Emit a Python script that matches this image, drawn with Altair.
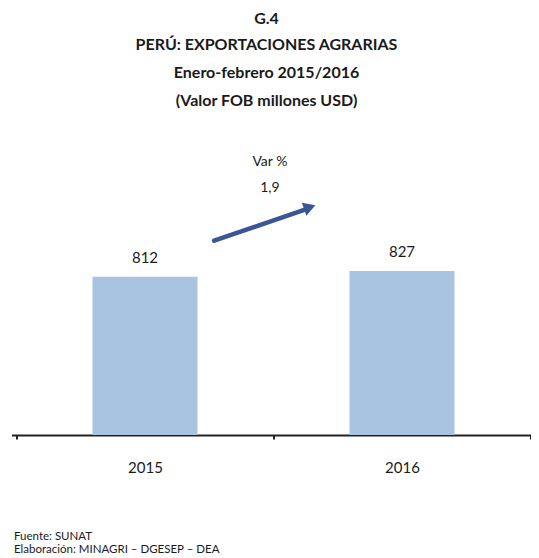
import altair as alt
import pandas as pd

# ---- data ----
years = ["2015", "2016"]
values = [812, 827]
var_caption = "Var %"
var_value = "1,9"
title_lines = [
    "G.4",
    "PERÚ: EXPORTACIONES AGRARIAS",
    "Enero-febrero 2015/2016",
    "(Valor FOB millones USD)",
]
footer_lines = ["Fuente: SUNAT", "Elaboración: MINAGRI – DGESEP – DEA"]

# arrow annotation in (category-position, value) units
arrow_x = [0.769, 1.128]
arrow_y = [906, 988]
head_x = [1.141]
head_y = [993]
var_x = [0.986, 0.986]
var_y = [1112, 1044]

FONT = "Lato"
BAR = "#A9C4E0"
ARROW = "#3A5795"
TXT = "#1a1a1a"

positions = [i + 0.5 for i in range(len(years))]
bars_df = pd.DataFrame({"year": years, "value": values, "pos": positions})

yscale = alt.Scale(domain=[400, 1150], nice=False, zero=False)
xscale = alt.Scale(domain=[0, len(years)], range=[0, 524], nice=False, zero=False)

label_expr = " : ".join(
    [f"datum.value == {p} ? '{y}'" for p, y in zip(positions, years)] + ["''"]
)
tick_vals = sorted(set(list(range(len(years) + 1)) + positions))

xaxis = alt.Axis(
    title=None, values=tick_vals, labelExpr=label_expr, labelAngle=0,
    labelFontSize=15, labelFont=FONT, labelColor=TXT, labelPadding=21,
    tickSize=4, tickColor="#222", tickWidth=2,
    tickOpacity=alt.condition("datum.value % 1 != 0", alt.value(0), alt.value(1)),
    domainColor="#222", domainWidth=2, grid=False, labelBound=False, labelOverlap=False,
    labelFlush=False,
)

X = lambda f: alt.X(f, scale=xscale, axis=xaxis)
Y = lambda f: alt.Y(f, scale=yscale, axis=None)

bars = alt.Chart(bars_df).mark_bar(width=105, color=BAR).encode(
    x=X("pos:Q"),
    y=Y("value:Q"),
    y2=alt.datum(400),
)
labels = alt.Chart(bars_df).mark_text(
    dy=-19, fontSize=15, font=FONT, color=TXT, baseline="middle"
).encode(x=X("pos:Q"), y=Y("value:Q"), text="value:Q")

arrow = alt.Chart(pd.DataFrame({"pos": arrow_x, "value": arrow_y})).mark_line(
    color=ARROW, strokeWidth=4.5, strokeCap="round"
).encode(x=X("pos:Q"), y=Y("value:Q"))
head = alt.Chart(pd.DataFrame({"pos": head_x, "value": head_y})).mark_point(
    shape="triangle-right", filled=True, size=190, angle=340.6, color=ARROW, opacity=1
).encode(x=X("pos:Q"), y=Y("value:Q"))
vtext = alt.Chart(pd.DataFrame({"pos": var_x, "value": var_y, "t": [var_caption, var_value]})).mark_text(
    fontSize=14, font=FONT, color=TXT, baseline="middle"
).encode(x=X("pos:Q"), y=Y("value:Q"), text="t:N")

title_y = [-128.5, -102, -74, -46]
titles = [
    alt.Chart(pd.DataFrame({"t": [line]})).mark_text(
        fontSize=16, font=FONT, fontWeight="bold", color=TXT, baseline="middle", align="center"
    ).encode(text="t:N", x=alt.value(255), y=alt.value(yy))
    for line, yy in zip(title_lines, title_y)
]
footer_y = [390, 402.5]
footers = [
    alt.Chart(pd.DataFrame({"t": [line]})).mark_text(
        fontSize=11.5, font=FONT, color=TXT, baseline="middle", align="left"
    ).encode(text="t:N", x=alt.value(2.5), y=alt.value(yy))
    for line, yy in zip(footer_lines, footer_y)
]

chart = (
    alt.layer(bars, labels, arrow, head, vtext, *titles, *footers)
    .properties(
        width=519.5,
        height=288,
        background="white",
        autosize=alt.AutoSizeParams(type="none"),
        padding={"left": 3.5, "top": 139, "right": 0, "bottom": 121},
    )
    .configure_view(stroke=None)
    .configure_axis(grid=False)
)

chart.save("out.html", embed_options={"renderer": "svg", "actions": False})
